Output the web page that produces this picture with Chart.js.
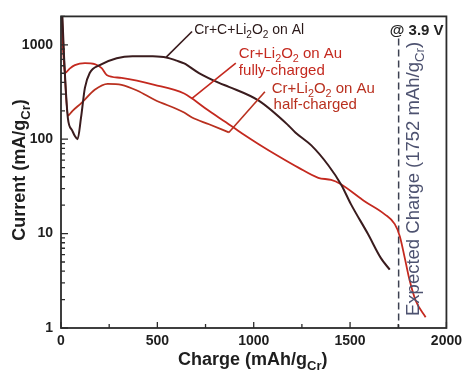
<!DOCTYPE html>
<html>
<head>
<meta charset="utf-8">
<script src="https://cdn.jsdelivr.net/npm/chart.js@4.4.1/dist/chart.umd.min.js"></script>
<style>
  html, body { margin: 0; padding: 0; background: #fff; }
  #wrap { width: 467px; height: 370px; position: relative; }
</style>
</head>
<body>
<div id="wrap"><canvas id="c" width="467" height="370"></canvas></div>
<script>
// Charge (mAh/g_Cr) against current (mA/g_Cr) for the three cells
const alCharge  = [4, 15, 36, 57, 72, 86, 104, 124, 149, 201, 289, 371, 470, 546, 600, 639, 716, 820, 871, 1026, 1180, 1216, 1299, 1387, 1454, 1505, 1593, 1660, 1706];
const alCurrent = [3000, 815, 165, 125, 108, 100, 170, 350, 503, 610, 722, 758, 755, 735, 680, 635, 502, 395, 359, 256, 140, 118, 86, 53, 33, 20.4, 9.9, 5.5, 4.15];

const fullCharge  = [1, 8, 15, 21, 45, 72, 124, 175, 211, 237, 314, 485, 639, 680, 760, 856, 940, 1026, 1129, 1232, 1335, 1402, 1448, 1577, 1680, 1732, 1758, 1784, 1809, 1840, 1892];
const fullCurrent = [3000, 1200, 650, 503, 560, 610, 640, 625, 567, 480, 446, 377, 305, 270, 205, 151, 115, 88.6, 66, 50, 39, 37, 33.8, 21.9, 16, 12.6, 9.4, 5.5, 3.2, 1.96, 1.3];

const halfCharge  = [3, 20, 36, 60, 108, 175, 242, 314, 397, 485, 639, 680, 768, 871];
const halfCurrent = [2500, 480, 178, 200, 244, 334, 386, 377, 326, 262, 192, 170, 144, 118];

const xTickValues = [0, 500, 1000, 1500, 2000];
const yTickValues = [1, 10, 100, 1000];
const expectedCharge = 1752;

const FONT = '"Liberation Sans", Arial, Helvetica, sans-serif';
const alColor = '#3a1c1e';
const fullColor = '#c4291f';
const halfColor = '#b9301f';
const axisColor = '#2b2b2b';

function toPoints(xs, ys) { return xs.map((x, i) => ({ x: x, y: ys[i] })); }

// Text runs: [text, isSubscript]
function runFont(size, weight, sub) {
  return weight + ' ' + (sub ? Math.round(size * 0.72 * 10) / 10 : size) + 'px ' + FONT;
}
function runsWidth(ctx, runs, size, weight) {
  let w = 0;
  for (const r of runs) { ctx.font = runFont(size, weight, r[1]); w += ctx.measureText(r[0]).width; }
  return w;
}
function drawRuns(ctx, runs, x, y, size, weight, color, align) {
  const w = runsWidth(ctx, runs, size, weight);
  let cx = align === 'center' ? x - w / 2 : x;
  ctx.fillStyle = color;
  ctx.textBaseline = 'alphabetic';
  ctx.textAlign = 'left';
  for (const r of runs) {
    ctx.font = runFont(size, weight, r[1]);
    ctx.fillText(r[0], cx, y + (r[1] ? size * 0.28 : 0));
    cx += ctx.measureText(r[0]).width;
  }
}

// Labels placed in data units (charge, current)
const notes = [
  { runs: [['Cr+C+Li'], ['2', 1], ['O'], ['2', 1], [' on Al']], at: [691, 1304], color: '#2a1818', size: 14, weight: 'normal' },
  { runs: [['Cr+Li'], ['2', 1], ['O'], ['2', 1], [' on Au']], at: [923, 722], color: fullColor, size: 15, weight: 'normal' },
  { runs: [['fully-charged']], at: [923, 480], color: fullColor, size: 15, weight: 'normal' },
  { runs: [['Cr+Li'], ['2', 1], ['O'], ['2', 1], [' on Au']], at: [1093, 311], color: halfColor, size: 15, weight: 'normal' },
  { runs: [['half-charged']], at: [1103, 211], color: halfColor, size: 15, weight: 'normal' },
  { runs: [['@ 3.9 V']], at: [1706, 1257], color: '#222', size: 15, weight: 'bold' }
];
const pointers = [
  { from: [546, 740], to: [680, 1385], color: alColor },
  { from: [680, 270], to: [907, 640], color: fullColor },
  { from: [871, 118], to: [1058, 318], color: halfColor }
];

const decor = {
  id: 'decor',
  beforeDatasetsDraw(chart) {
    const { ctx, scales: { x, y } } = chart;
    const px = x.getPixelForValue(expectedCharge);
    ctx.save();
    ctx.strokeStyle = '#3c4152';
    ctx.lineWidth = 1.5;
    ctx.setLineDash([7, 4]);
    ctx.beginPath();
    ctx.moveTo(px, y.getPixelForValue(1170));
    ctx.lineTo(px, y.getPixelForValue(1));
    ctx.stroke();
    ctx.restore();
  },
  afterDatasetsDraw(chart) {
    const { ctx, chartArea: a, scales: { x, y } } = chart;
    ctx.save();
    // frame
    ctx.strokeStyle = axisColor;
    ctx.lineWidth = 1.8;
    ctx.strokeRect(a.left, a.top, a.right - a.left, a.bottom - a.top);
    // inward tick marks
    ctx.lineWidth = 1.3;
    ctx.beginPath();
    for (let v = x.min; v <= x.max; v += 250) {
      const p = x.getPixelForValue(v);
      const len = xTickValues.includes(v) ? 6 : 4;
      ctx.moveTo(p, a.bottom); ctx.lineTo(p, a.bottom - len);
    }
    for (let d = 1; d <= 1000; d *= 10) {
      for (let m = 1; m <= 9; m++) {
        const v = d * m;
        if (v > y.max) break;
        const p = y.getPixelForValue(v);
        const len = m === 1 ? 7 : 4;
        ctx.moveTo(a.left, p); ctx.lineTo(a.left + len, p);
      }
    }
    ctx.stroke();
    // leader lines
    ctx.lineWidth = 1.6;
    for (const p of pointers) {
      ctx.strokeStyle = p.color;
      ctx.beginPath();
      ctx.moveTo(x.getPixelForValue(p.from[0]), y.getPixelForValue(p.from[1]));
      ctx.lineTo(x.getPixelForValue(p.to[0]), y.getPixelForValue(p.to[1]));
      ctx.stroke();
    }
    // labels
    for (const n of notes) {
      drawRuns(ctx, n.runs, x.getPixelForValue(n.at[0]), y.getPixelForValue(n.at[1]), n.size, n.weight, n.color, 'left');
    }
    // rotated note beside the dashed line
    ctx.save();
    ctx.translate(x.getPixelForValue(1858), y.getPixelForValue(1.34));
    ctx.rotate(-Math.PI / 2);
    drawRuns(ctx, [['Expected Charge (1752 mAh/g'], ['Cr', 1], [')']], 0, 0, 18.5, 'normal', '#4d5270', 'left');
    ctx.restore();
    ctx.restore();
  },
  afterDraw(chart) {
    const { ctx, chartArea: a } = chart;
    ctx.save();
    drawRuns(ctx, [['Charge (mAh/g'], ['Cr', 1], [')']], (a.left + a.right) / 2 - 1, 365, 18, 'bold', '#1e1e1e', 'center');
    ctx.translate(25, 170);
    ctx.rotate(-Math.PI / 2);
    drawRuns(ctx, [['Current (mA/g'], ['Cr', 1], [')']], 0, 0, 18, 'bold', '#1e1e1e', 'center');
    ctx.restore();
  }
};

new Chart(document.getElementById('c'), {
  type: 'line',
  data: {
    datasets: [
      { label: 'Cr+C+Li2O2 on Al', data: toPoints(alCharge, alCurrent), borderColor: alColor, borderWidth: 2 },
      { label: 'Cr+Li2O2 on Au fully-charged', data: toPoints(fullCharge, fullCurrent), borderColor: fullColor, borderWidth: 1.8 },
      { label: 'Cr+Li2O2 on Au half-charged', data: toPoints(halfCharge, halfCurrent), borderColor: halfColor, borderWidth: 1.8 }
    ]
  },
  options: {
    responsive: false,
    animation: false,
    devicePixelRatio: 1,
    layout: { padding: { left: 0, top: 15, right: 18, bottom: 0 } },
    elements: {
      point: { radius: 0, hoverRadius: 0 },
      line: { cubicInterpolationMode: 'monotone', fill: false }
    },
    plugins: { legend: { display: false }, tooltip: { enabled: false } },
    scales: {
      x: {
        type: 'linear', min: 0, max: 2000,
        grid: { display: false, drawTicks: false },
        border: { display: false },
        afterFit(s) { s.height = 42; },
        afterBuildTicks(s) { s.ticks = xTickValues.map(v => ({ value: v })); },
        ticks: { padding: 5, color: '#1e1e1e', font: { family: FONT, size: 14, weight: 'bold' }, maxRotation: 0, callback: v => String(v) }
      },
      y: {
        type: 'logarithmic', min: 1, max: 2000,
        grid: { display: false, drawTicks: false },
        border: { display: false },
        afterFit(s) { s.width = 61; },
        afterBuildTicks(s) { s.ticks = yTickValues.map(v => ({ value: v })); },
        ticks: { padding: 8, color: '#1e1e1e', font: { family: FONT, size: 14, weight: 'bold' }, callback: v => String(v) }
      }
    }
  },
  plugins: [decor]
});
</script>
</body>
</html>
